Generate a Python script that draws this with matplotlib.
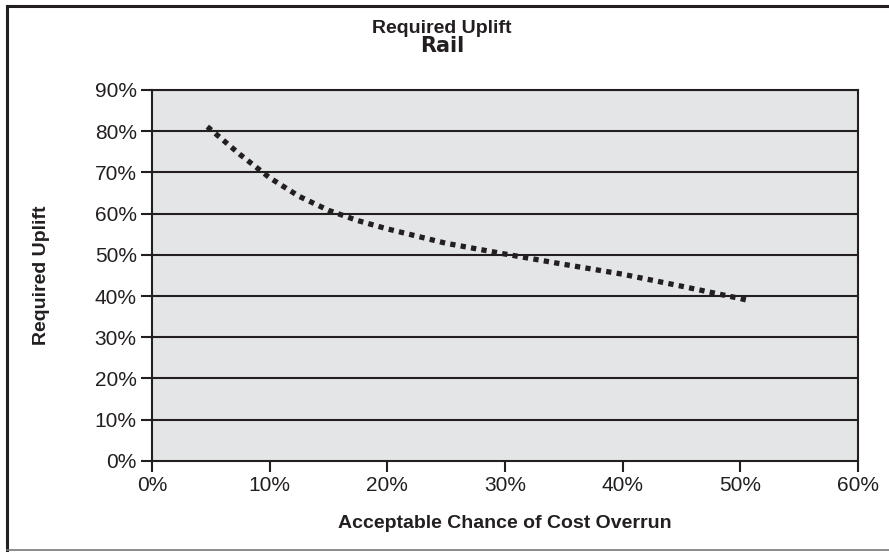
import matplotlib
matplotlib.use('Agg')
from matplotlib import pyplot as plt
from matplotlib.lines import Line2D
from matplotlib.ticker import PercentFormatter

# chance of overrun (%) vs required uplift (%)
chance = [4.7, 7.5, 10, 12.5, 15, 17.5, 20, 25, 30, 35, 40, 45, 50, 50.6]
uplift = [81.1, 74.3, 68.7, 64.2, 60.8, 58.3, 56.3, 52.8, 50.2, 47.7, 45.3, 42.4, 39.4, 39.0]

xticks = [0, 10, 20, 30, 40, 50, 60]
yticks = [0, 10, 20, 30, 40, 50, 60, 70, 80, 90]

plt.rcParams['font.family'] = ['Liberation Sans', 'DejaVu Sans']
ink = '#231f20'

fig = plt.figure(figsize=(8.89, 5.52), dpi=100)
ax = fig.add_axes([0.171, 0.165, 0.794, 0.672])
ax.set_facecolor('#e4e5e7')

for y in yticks[1:]:
    ax.axhline(y, color=ink, lw=1.5, zorder=1)

ax.plot(chance, uplift, color=ink, lw=3.8, linestyle=(0, (1.0, 1.0)),
        solid_capstyle='butt', dash_capstyle='butt', zorder=3)

ax.set_xlim(0, 60)
ax.set_ylim(0, 90)
ax.set_xticks(xticks)
ax.set_yticks(yticks)
ax.xaxis.set_major_formatter(PercentFormatter(decimals=0))
ax.yaxis.set_major_formatter(PercentFormatter(decimals=0))
ax.tick_params(direction='out', length=8, width=1.5, color=ink,
               labelsize=15, labelcolor=ink, pad=3)
for s in ax.spines.values():
    s.set_color(ink)
    s.set_linewidth(1.5)

ax.set_xlabel('Acceptable Chance of Cost Overrun', fontsize=14, fontweight='bold',
              color=ink, labelpad=14)
ax.set_ylabel('Required Uplift', fontsize=14, fontweight='bold', color=ink, labelpad=32)

fig.text(0.497, 0.948, 'Required Uplift', ha='center', va='center',
         fontsize=14, fontweight='bold', color=ink)
fig.text(0.497, 0.916, 'Rail', ha='center', va='center',
         fontsize=15, fontweight='heavy', color=ink, family=['DejaVu Sans'])

# outer frame (open on the right like the source)
fig.add_artist(Line2D([0.008, 1.0], [0.989, 0.989], color=ink, lw=2.2,
                      transform=fig.transFigure))
fig.add_artist(Line2D([0.008, 0.008], [0.003, 0.989], color=ink, lw=2.2,
                      transform=fig.transFigure))
fig.add_artist(Line2D([0.008, 1.0], [0.003, 0.003], color='#777777', lw=1.2,
                      transform=fig.transFigure))

plt.savefig('out.png', dpi=100)
